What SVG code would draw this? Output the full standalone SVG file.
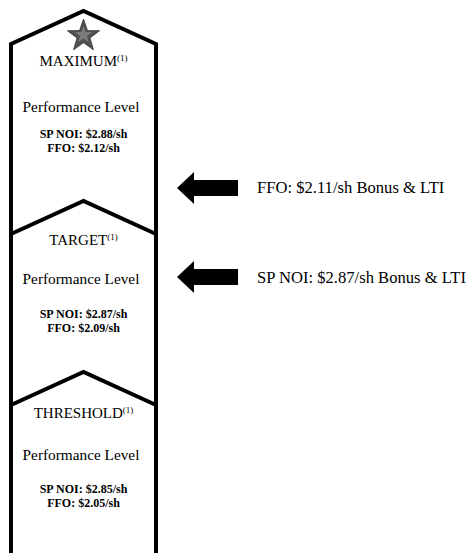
<svg xmlns="http://www.w3.org/2000/svg" width="472" height="553" viewBox="0 0 472 553">
  <style>
    .t { font-family: "Liberation Serif", "Times New Roman", serif; fill: #000; text-anchor: middle; }
    .h { font-size: 15px; }
    .sup { font-size: 9px; }
    .pl { font-size: 15.3px; }
    .v { font-size: 12px; font-weight: bold; }
    .lbl { font-family: "Liberation Serif", "Times New Roman", serif; font-size: 16.6px; fill: #000; }
    .edge { fill: none; stroke: #000; stroke-width: 4; stroke-linejoin: miter; }
    .arrow { fill: #000; }
  </style>
  <rect width="472" height="553" fill="#fff"/>
  <g id="outline">
    <path class="edge" d="M11,553 L11,44 L83.5,11 L156,44 L156,553"/>
  </g>
  <g id="maximum">
    <polygon fill="#505050" stroke="#3a3a3a" stroke-width="0.8" points="83.5,19 87.5,30.5 99.7,30.7 90,38 93.5,49.8 83.5,42.8 73.5,49.8 77,38 67.3,30.7 79.5,30.5"/>
    <polygon fill="#7c7c7c" points="83.5,26 85.6,32.1 92,32.2 86.9,36 88.8,42.2 83.5,38.5 78.2,42.2 80.1,36 75,32.2 81.4,32.1"/>
    <text class="t h" x="83.5" y="66">MAXIMUM<tspan class="sup" dy="-5">(1)</tspan></text>
    <text class="t pl" x="81" y="112">Performance Level</text>
    <text class="t v" x="83.5" y="138">SP NOI: $2.88/sh</text>
    <text class="t v" x="83.5" y="152">FFO: $2.12/sh</text>
  </g>
  <g id="target">
    <path class="edge" d="M11,234 L83.5,201 L156,234"/>
    <text class="t h" x="83.5" y="245">TARGET<tspan class="sup" dy="-5">(1)</tspan></text>
    <text class="t pl" x="81" y="284">Performance Level</text>
    <text class="t v" x="83.5" y="318">SP NOI: $2.87/sh</text>
    <text class="t v" x="83.5" y="332">FFO: $2.09/sh</text>
  </g>
  <g id="threshold">
    <path class="edge" d="M11,405 L83.5,372 L156,405"/>
    <text class="t h" x="83.5" y="418">THRESHOLD<tspan class="sup" dy="-5">(1)</tspan></text>
    <text class="t pl" x="81" y="460">Performance Level</text>
    <text class="t v" x="83.5" y="493">SP NOI: $2.85/sh</text>
    <text class="t v" x="83.5" y="507">FFO: $2.05/sh</text>
  </g>
  <g id="connectors">
    <polygon class="arrow" points="177,188 194,172 194,180 238,180 238,196 194,196 194,204"/>
    <polygon class="arrow" points="177,277 194,261 194,269 238,269 238,285 194,285 194,293"/>
  </g>
  <g id="ffo-label">
    <text class="lbl" x="257" y="193">FFO: $2.11/sh Bonus &amp; LTI</text>
  </g>
  <g id="spnoi-label">
    <text class="lbl" x="257" y="283">SP NOI: $2.87/sh Bonus &amp; LTI</text>
  </g>
</svg>
